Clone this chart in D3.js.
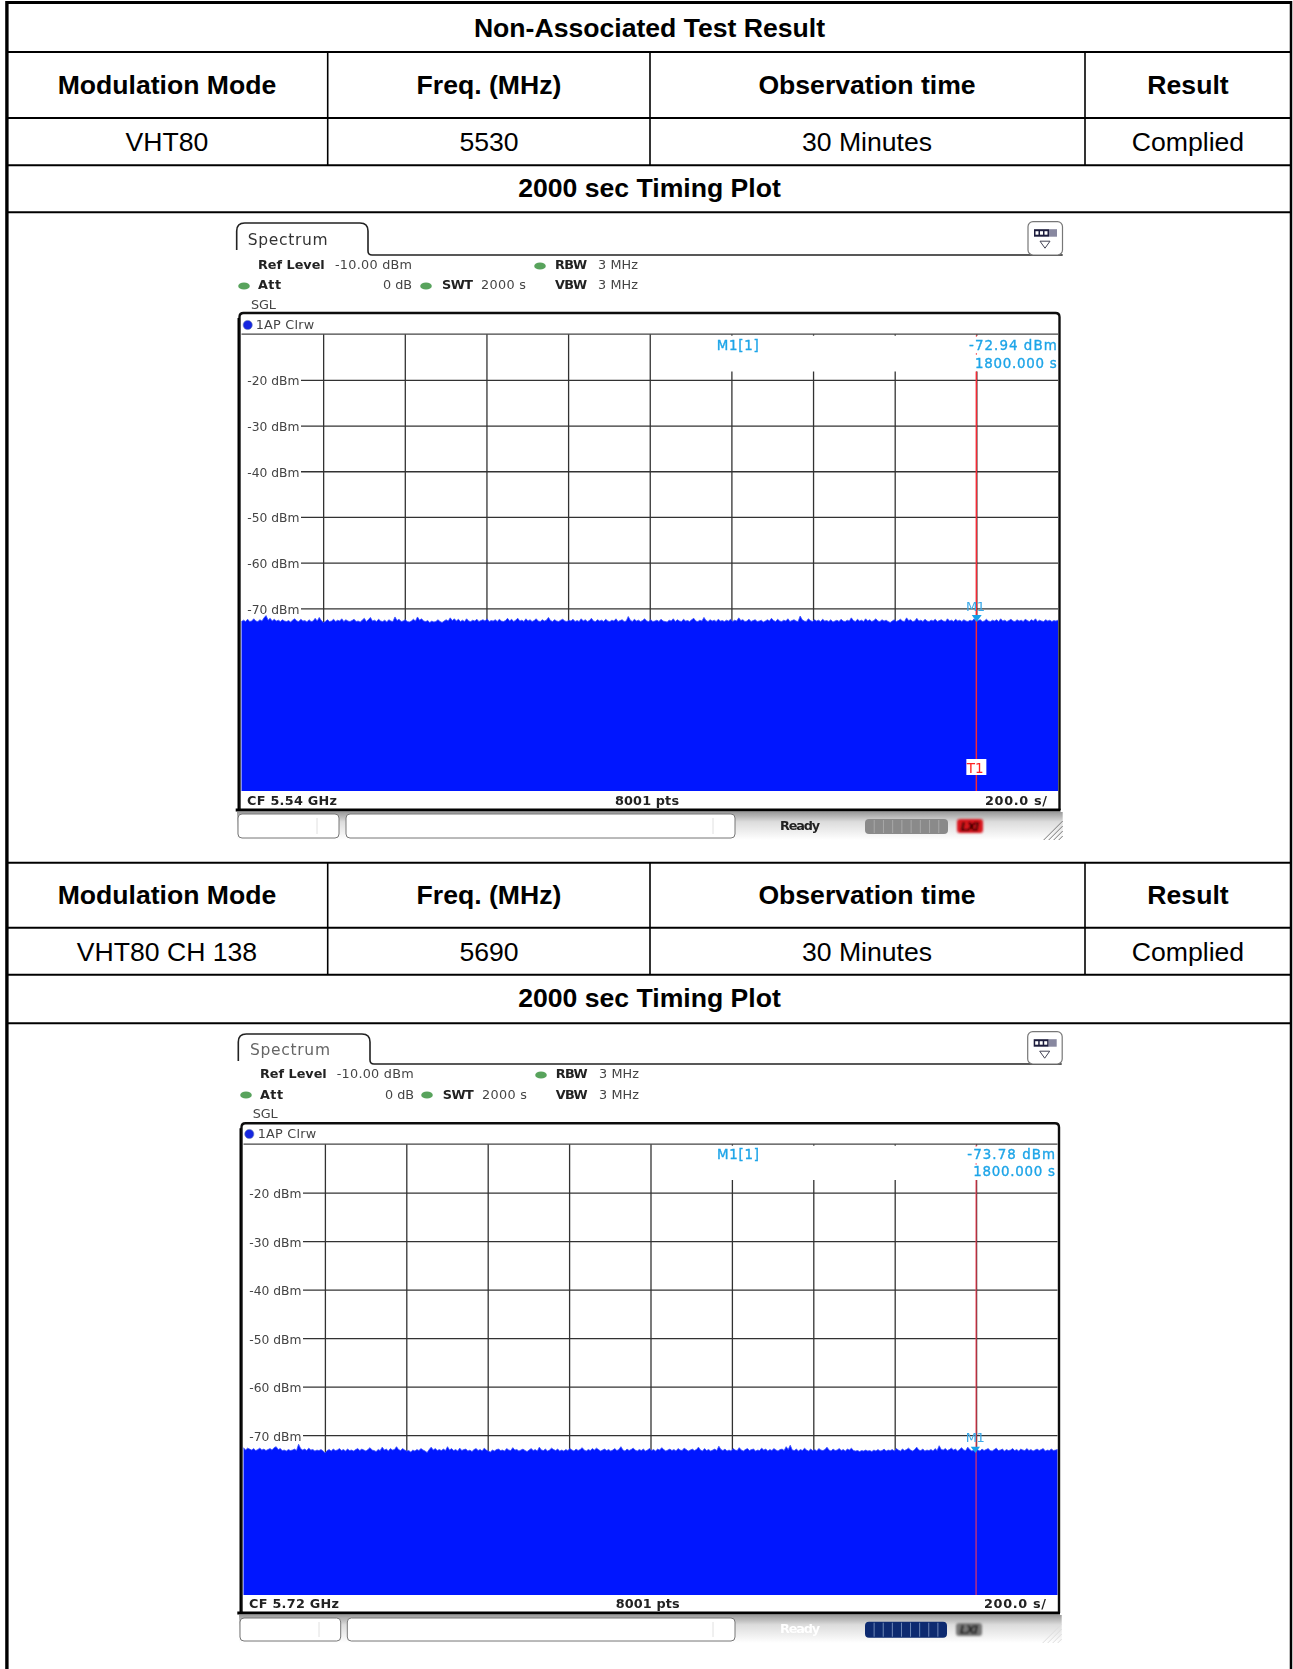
<!DOCTYPE html>
<html>
<head>
<meta charset="utf-8">
<script src="https://cdn.jsdelivr.net/npm/d3@7/dist/d3.min.js"></script>
<style>
body { margin: 0; background: #fff; }
svg { display: block; }
</style>
</head>
<body>
<div id="chart"></div>
<script>
// table text
const tableTitle = "Non-Associated Test Result"
const tableHeaders = ["Modulation Mode", "Freq. (MHz)", "Observation time", "Result"]
const resultRows = [
    ["VHT80", "5530", "30 Minutes", "Complied"],
    ["VHT80 CH 138", "5690", "30 Minutes", "Complied"]
]
const plotTitle = "2000 sec Timing Plot"

// analyzer axes
const levelTicks = [-20, -30, -40, -50, -60, -70]
const timeTicks = [200, 400, 600, 800, 1000, 1200, 1400, 1600, 1800]

// trace top edge in dBm from left to right
const trace1 = [
    -72.9,-72.6,-72.9,-72.4,-72.9,-72.8,-72.3,-72.8,-72.9,-72.5,-72.8,-72.1,-71.6,-72.6,-72.2,-72.8,-72.4,-72.8,-72.6,-72.9,
    -72.5,-72.8,-72.9,-72.7,-73.0,-72.6,-72.3,-72.8,-72.9,-72.4,-72.8,-72.7,-73.0,-72.5,-72.9,-72.8,-72.2,-72.8,-72.0,-72.7,
    -73.1,-72.9,-72.5,-72.9,-72.8,-72.4,-72.9,-72.6,-72.8,-72.3,-72.9,-72.5,-72.8,-72.9,-72.7,-72.4,-72.9,-72.8,-73.0,-72.6,
    -72.2,-72.9,-72.5,-72.0,-72.8,-72.6,-72.9,-72.4,-72.8,-72.9,-72.6,-73.0,-72.5,-72.8,-72.9,-71.9,-72.7,-72.4,-72.9,-72.8,
    -72.5,-72.9,-73.0,-72.8,-72.4,-72.8,-71.9,-72.6,-72.3,-72.8,-72.9,-72.7,-73.1,-72.8,-73.0,-72.9,-72.5,-72.9,-73.1,-72.8,
    -72.5,-72.8,-72.1,-72.7,-72.3,-72.8,-72.4,-72.9,-72.6,-72.9,-72.3,-72.8,-72.9,-72.6,-72.8,-72.4,-72.9,-72.7,-72.5,-72.8,
    -72.3,-72.9,-72.7,-72.8,-72.5,-72.9,-72.4,-72.8,-72.9,-72.7,-72.2,-72.8,-72.4,-72.9,-72.6,-72.2,-72.8,-72.6,-72.9,-72.3,
    -72.8,-72.5,-72.9,-72.7,-72.3,-72.8,-72.9,-72.5,-72.8,-72.6,-72.0,-72.7,-72.9,-72.5,-72.8,-72.9,-72.6,-72.4,-72.8,-72.9,
    -72.6,-72.8,-72.4,-72.9,-72.7,-72.9,-72.3,-72.8,-72.5,-72.9,-72.7,-72.2,-72.8,-72.9,-72.5,-72.8,-72.6,-72.9,-72.4,-72.8,
    -72.9,-72.6,-72.8,-72.3,-72.9,-72.7,-72.5,-72.9,-72.8,-71.8,-72.6,-72.9,-72.4,-72.8,-72.6,-72.9,-72.7,-72.3,-72.8,-72.9,
    -72.5,-72.9,-72.8,-72.6,-72.9,-72.4,-72.8,-72.9,-73.0,-72.6,-72.8,-72.3,-72.9,-72.5,-72.8,-72.9,-72.4,-72.8,-72.7,-72.9,
    -72.5,-72.2,-72.8,-72.9,-72.6,-72.8,-72.0,-72.7,-72.9,-72.5,-72.8,-72.6,-72.9,-72.4,-72.8,-72.7,-72.9,-72.6,-72.8,-72.4,
    -72.9,-72.6,-72.8,-72.1,-72.7,-72.5,-72.9,-72.8,-72.4,-72.9,-72.7,-72.5,-72.9,-72.8,-72.6,-73.0,-72.8,-72.5,-72.8,-72.2,
    -72.7,-72.9,-72.4,-72.8,-72.9,-72.6,-72.8,-72.3,-72.9,-72.7,-72.5,-72.8,-72.9,-71.7,-72.5,-72.8,-72.9,-72.3,-72.7,-72.9,
    -72.5,-72.8,-72.6,-72.9,-72.4,-72.8,-72.7,-72.9,-72.5,-73.0,-72.8,-72.6,-72.9,-72.4,-72.8,-72.9,-72.6,-72.8,-72.1,-72.7,
    -72.9,-72.4,-72.8,-72.6,-72.9,-72.3,-72.8,-72.5,-72.9,-72.7,-72.3,-72.8,-72.9,-72.5,-72.8,-72.6,-72.9,-73.1,-72.8,-72.5,
    -72.9,-72.7,-72.4,-72.8,-72.9,-72.1,-72.7,-72.5,-72.9,-72.8,-72.2,-72.8,-72.6,-72.9,-72.4,-72.8,-72.9,-72.6,-72.8,-72.4,
    -72.9,-72.7,-72.5,-72.8,-72.9,-72.3,-72.8,-72.6,-72.9,-72.4,-72.8,-72.6,-72.9,-72.5,-72.8,-72.9,-72.6,-72.8,-72.3,-72.9,
    -72.7,-72.5,-72.9,-72.8,-72.4,-72.8,-72.9,-72.6,-72.8,-72.5,-72.9,-72.3,-72.8,-72.6,-72.9,-72.7,-72.4,-72.8,-72.9,-72.5,
    -72.8,-72.6,-72.9,-72.4,-72.7,-72.9,-72.5,-72.8,-72.3,-72.9,-72.6,-72.8,-72.9,-72.5,-72.8,-72.6,-72.9,-72.7,-72.8,-72.6
]
const trace2 = [
    -72.6,-73.1,-72.7,-72.9,-73.1,-72.8,-73.2,-73.0,-72.7,-73.1,-72.9,-73.2,-73.0,-72.8,-73.1,-72.6,-72.4,-73.0,-72.8,-73.2,
    -73.1,-73.3,-73.0,-73.2,-73.1,-72.9,-73.2,-71.9,-72.8,-73.1,-72.9,-73.2,-72.7,-73.1,-73.0,-73.3,-73.1,-73.2,-73.0,-73.3,
    -73.7,-73.2,-73.0,-73.3,-72.9,-73.2,-73.1,-72.8,-73.2,-73.0,-73.3,-72.9,-73.2,-73.1,-73.3,-73.0,-72.8,-73.2,-72.9,-73.1,
    -73.3,-73.0,-72.6,-73.1,-73.2,-73.4,-73.0,-73.2,-72.5,-73.1,-72.9,-73.3,-72.8,-73.1,-73.0,-72.4,-73.0,-73.2,-72.8,-73.1,
    -73.3,-73.2,-73.5,-73.1,-73.3,-73.0,-73.2,-72.8,-73.1,-73.3,-73.6,-73.0,-72.5,-73.1,-72.8,-73.2,-73.0,-73.2,-72.9,-73.2,
    -72.4,-73.1,-72.8,-73.2,-73.0,-73.3,-72.7,-73.2,-73.0,-72.9,-73.3,-73.1,-73.4,-73.0,-72.8,-73.2,-73.0,-73.3,-72.7,-73.1,
    -73.3,-73.5,-73.1,-73.3,-73.0,-72.9,-73.2,-73.1,-73.3,-72.8,-73.1,-73.2,-72.6,-73.1,-73.0,-73.3,-73.1,-72.9,-73.2,-73.4,
    -73.1,-72.8,-73.2,-73.0,-73.3,-72.5,-73.1,-73.2,-72.9,-73.3,-73.1,-72.7,-73.0,-73.2,-72.9,-73.3,-73.1,-73.3,-73.0,-73.2,
    -72.8,-73.1,-73.3,-72.9,-73.2,-73.0,-72.6,-73.1,-73.3,-73.0,-73.2,-72.8,-73.1,-72.7,-73.0,-73.3,-73.1,-72.9,-73.2,-73.0,
    -73.3,-73.1,-72.8,-73.2,-73.0,-72.4,-73.1,-73.3,-72.9,-73.2,-73.0,-72.7,-73.1,-73.3,-73.0,-73.2,-72.9,-73.3,-73.1,-72.8,
    -73.2,-73.0,-73.3,-72.9,-73.1,-72.6,-73.0,-73.3,-73.1,-72.9,-73.2,-73.0,-73.3,-72.8,-73.1,-73.2,-72.7,-73.0,-73.3,-73.1,
    -72.9,-73.2,-73.0,-72.5,-73.1,-73.3,-72.8,-73.2,-73.0,-73.3,-73.1,-72.9,-73.2,-72.3,-73.0,-73.2,-72.9,-73.3,-73.1,-73.3,
    -72.8,-73.1,-73.2,-72.6,-73.1,-73.3,-73.0,-72.8,-73.2,-73.0,-72.9,-73.3,-73.1,-73.2,-72.7,-73.1,-72.9,-73.3,-73.0,-73.2,
    -72.8,-73.1,-73.3,-73.0,-72.9,-73.2,-72.4,-73.0,-72.1,-73.1,-73.2,-72.9,-73.3,-73.0,-73.2,-72.7,-73.1,-73.3,-72.9,-73.2,
    -73.0,-73.3,-72.8,-73.1,-73.2,-73.0,-72.5,-73.1,-73.3,-72.9,-73.2,-73.1,-72.8,-73.2,-73.0,-73.3,-72.9,-73.1,-72.7,-73.2,
    -73.3,-73.2,-73.4,-73.2,-73.3,-73.1,-73.3,-73.2,-73.4,-73.1,-73.3,-73.0,-73.3,-73.2,-72.9,-73.3,-73.1,-73.2,-73.0,-73.3,
    -72.8,-73.1,-73.3,-72.9,-73.2,-73.0,-72.7,-73.1,-73.3,-73.0,-72.5,-73.1,-73.2,-72.9,-73.3,-73.1,-73.2,-73.0,-73.3,-72.8,
    -73.2,-72.2,-73.0,-73.1,-72.8,-73.2,-73.0,-72.7,-73.1,-72.9,-73.3,-73.0,-72.6,-73.1,-73.2,-72.5,-73.0,-73.3,-73.1,-72.8,
    -73.1,-73.3,-72.9,-73.2,-73.0,-72.8,-73.2,-73.3,-73.0,-72.7,-73.2,-73.1,-72.9,-73.3,-73.0,-73.2,-73.1,-72.8,-73.2,-73.0,
    -73.3,-72.9,-73.1,-73.2,-72.8,-73.2,-73.0,-73.3,-73.1,-72.9,-73.2,-73.0,-72.8,-73.3,-73.1,-73.2,-72.9,-73.2,-73.1,-73.0
]

const width = 1293, height = 1669

const svg = d3.select("#chart").append("svg")
    .attr("width", width)
    .attr("height", height)
    .attr("viewBox", `0 0 ${width} ${height}`)

const defs = svg.append("defs")

defs.append("filter").attr("id", "soft")
    .attr("x", "-2%").attr("y", "-2%").attr("width", "104%").attr("height", "104%")
    .append("feGaussianBlur").attr("stdDeviation", 0.4)
defs.append("filter").attr("id", "softer")
    .attr("x", "-20%").attr("y", "-20%").attr("width", "140%").attr("height", "140%")
    .append("feGaussianBlur").attr("stdDeviation", 0.9)

let barGradient = defs.append("linearGradient")
    .attr("id", "statusbar")
    .attr("x1", 0).attr("y1", 0).attr("x2", 0).attr("y2", 1)
barGradient.append("stop").attr("offset", "0%").attr("stop-color", "#9a9a9a")
barGradient.append("stop").attr("offset", "35%").attr("stop-color", "#dcdcdc")
barGradient.append("stop").attr("offset", "100%").attr("stop-color", "#ffffff")

// ---- table ----
const tableFont = "'Liberation Sans', Arial, sans-serif"
const colCentres = [167, 489, 867, 1188]
const colLines = [327.7, 650, 1085]
const tableLeft = 6.9, tableRight = 1291

let tableGroup = svg.append("g")
let plotGroup = svg.append("g")

function hline(y, w) {
    tableGroup.append("line")
        .attr("x1", tableLeft).attr("x2", tableRight)
        .attr("y1", y).attr("y2", y)
        .attr("stroke", "black").attr("stroke-width", w)
}

function cellText(s, x, y, bold) {
    tableGroup.append("text")
        .attr("x", x).attr("y", y)
        .attr("text-anchor", "middle")
        .attr("font-family", tableFont)
        .attr("font-size", 26.6)
        .attr("font-weight", bold ? "bold" : "normal")
        .attr("fill", "black")
        .text(s)
}

hline(2.5, 3)
tableGroup.selectAll(".outer")
    .data([tableLeft, tableRight])
    .join("line")
    .attr("class", "outer")
    .attr("x1", d => d).attr("x2", d => d)
    .attr("y1", 1).attr("y2", height)
    .attr("stroke", "black")
    .attr("stroke-width", d => d == tableLeft ? 3.4 : 2.5)

cellText(tableTitle, 649.5, 37, true)

// each result block: rule under title/plot, header, value and plot title rows
const blocks = [
    {rules: [52, 118, 165.3, 212.3]},
    {rules: [862.7, 927.7, 974.7, 1023.3]}
]
blocks.forEach((block, b) => {
    let [top, headerEnd, valueEnd, titleEnd] = block.rules
    block.rules.forEach(y => hline(y, 2))
    tableGroup.selectAll(".col" + b)
        .data(colLines)
        .join("line")
        .attr("class", "col" + b)
        .attr("x1", d => d).attr("x2", d => d)
        .attr("y1", top).attr("y2", valueEnd)
        .attr("stroke", "black").attr("stroke-width", 1.6)
    tableHeaders.forEach((h, i) => cellText(h, colCentres[i], headerEnd - 24, true))
    resultRows[b].forEach((v, i) => cellText(v, colCentres[i], headerEnd + 33, false))
    cellText(plotTitle, 649.5, valueEnd + 32, true)
})

// ---- analyzer screenshots ----
const plotFont = "'DejaVu Sans', Verdana, sans-serif"

const plotLayouts = [
    {
        trace: trace1, cf: "CF 5.54 GHz", markerValue: "-72.94 dBm", markerLevel: -72.94,
        x0: 241.5, x1: 1058, yTop: 334.2, yBottom: 791, yMin: -110,
        tabLeft: 236.7, tabRight: 368, tabTop: 223, tabBase: 255, lineEnd: 1062.7,
        button: [1028, 221.7], spectrumColor: "#333",
        spectrum: [247.7, 245],
        rows: [269, 289, 309],
        fields: {ref: 258, refVal: 335, att0: 383, swt: 442, swtVal: 481, rbw: 555, mhz: 598},
        leds: [[540, 266], [244, 286], [426, 286]],
        sgl: 251, frameTop: 313, frameLeft: 239.5, frameRight: 1059.5, frameBottom: 810,
        dot: [247.7, 325], trc: [255.7, 329],
        labelX: 247.3, labelEnd: 301, labelDy: 5,
        markX: [716.7, 1056.7], markY: [350, 367.7], gridStop: 371.5,
        m1: [966, 610.7], tri: [971.7, 981.7, 615, 622],
        bottomY: 805, ptsX: 615, perDivX: 985,
        bar: [812, 840], boxLeft: 238, boxTop: 814, boxBottom: 838, box2: [346, 735], notch: [317, 713],
        boxW: 101, ready: {x: 780, y: 830, fill: "#222"},
        prog: {x: 865, y: 819, w: 83, h: 15, fill: "#8a8a8a", stroke: "#a8a8a8"},
        lxi: {x: 957, y: 819, w: 26, h: 14, fill: "#d8141c", text: "#200"},
        grip: "#777", redLine: "#f42a36", redOpacity: 1, t1: true
    },
    {
        trace: trace2, cf: "CF 5.72 GHz", markerValue: "-73.78 dBm", markerLevel: -73.78,
        x0: 243.5, x1: 1057.5, yTop: 1144.2, yBottom: 1595, yMin: -103,
        tabLeft: 238.3, tabRight: 370, tabTop: 1034, tabBase: 1064, lineEnd: 1061.7,
        button: [1027.7, 1031.7], spectrumColor: "#666",
        spectrum: [250, 1055],
        rows: [1078.3, 1099, 1117.7],
        fields: {ref: 260, refVal: 336.7, att0: 385, swt: 442.7, swtVal: 482, rbw: 555.7, mhz: 599},
        leds: [[541, 1075], [246, 1095], [427, 1095]],
        sgl: 252.7, frameTop: 1123.3, frameLeft: 241.5, frameRight: 1059, frameBottom: 1613,
        dot: [249.3, 1134], trc: [257.7, 1138],
        labelX: 249.3, labelEnd: 303, labelDy: 5,
        markX: [717, 1055], markY: [1159, 1176], gridStop: 1180,
        m1: [965.7, 1441.7], tri: [970.7, 980, 1446.7, 1453],
        bottomY: 1608, ptsX: 615.7, perDivX: 984,
        bar: [1615, 1643], boxLeft: 240, boxTop: 1618, boxBottom: 1641, box2: [347.3, 735], notch: [319, 713],
        boxW: 100.7, ready: {x: 780, y: 1633, fill: "#fff"},
        prog: {x: 865, y: 1621.7, w: 82, h: 16, fill: "#0a2a70", stroke: "#7088b8"},
        lxi: {x: 956, y: 1623, w: 26, h: 13, fill: "#777", text: "#222"},
        grip: "#ddd", redLine: "#ff3a50", redOpacity: 0.7, t1: false
    }
]

function label(g, s, x, y, opts = {}) {
    let t = g.append("text")
        .attr("x", x).attr("y", y)
        .attr("font-family", plotFont)
        .attr("font-size", opts.size || 12.8)
        .attr("font-weight", opts.bold ? "bold" : "normal")
        .attr("fill", opts.fill || "#444")
        .text(s)
    if (opts.len) t.attr("textLength", opts.len).attr("lengthAdjust", "spacing")
    if (opts.anchor) t.attr("text-anchor", opts.anchor)
    return t
}

function drawPlot(p) {
    let g = plotGroup.append("g").attr("filter", "url(#soft)")

    let xScale = d3.scaleLinear().domain([0, 2000]).range([p.x0, p.x1])
    let yScale = d3.scaleLinear().domain([-10, p.yMin]).range([p.yTop, p.yBottom])
    let sampleScale = d3.scaleLinear().domain([0, p.trace.length - 1]).range([0, 2000])

    // tab and settings header
    g.append("path")
        .attr("d", `M${p.tabLeft},${p.tabTop + 27} V${p.tabTop + 8} Q${p.tabLeft},${p.tabTop} ${p.tabLeft + 8},${p.tabTop}
            H${p.tabRight - 8} Q${p.tabRight},${p.tabTop} ${p.tabRight},${p.tabTop + 8} V${p.tabBase - 4}
            Q${p.tabRight},${p.tabBase} ${p.tabRight + 4},${p.tabBase} H${p.lineEnd}`)
        .attr("fill", "none").attr("stroke", "#222").attr("stroke-width", 1.6)

    let [bx, by] = p.button
    g.append("rect")
        .attr("x", bx).attr("y", by).attr("width", 34.5).attr("height", p.tabBase - by)
        .attr("rx", 5).attr("fill", "white").attr("stroke", "#777").attr("stroke-width", 1.2)
    g.append("rect").attr("x", bx + 6).attr("y", by + 7.5).attr("width", 15).attr("height", 7.5).attr("fill", "#1c1c3c")
    g.append("rect").attr("x", bx + 21).attr("y", by + 7.5).attr("width", 8).attr("height", 7.5).attr("fill", "#8888a0")
    d3.range(3).forEach(i => g.append("rect").attr("x", bx + 7.5 + i * 4.5).attr("y", by + 9.5).attr("width", 3).attr("height", 3.5).attr("fill", "#fff"))
    g.append("path")
        .attr("d", `M${bx + 12},${by + 19.5} H${bx + 22} L${bx + 17},${by + 26.5} Z`)
        .attr("fill", "white").attr("stroke", "#445").attr("stroke-width", 1)

    label(g, "Spectrum", p.spectrum[0], p.spectrum[1], {size: 15.5, len: 80, fill: p.spectrumColor})

    let f = p.fields, [r1, r2, r3] = p.rows
    label(g, "Ref Level", f.ref, r1, {bold: true, fill: "#222", len: 66.7})
    label(g, "-10.00 dBm", f.refVal, r1, {len: 77})
    label(g, "RBW", f.rbw, r1, {bold: true, fill: "#222", len: 32})
    label(g, "3 MHz", f.mhz, r1, {len: 40})
    label(g, "Att", f.ref, r2, {bold: true, fill: "#222", len: 23})
    label(g, "0 dB", f.att0, r2, {len: 29})
    label(g, "SWT", f.swt, r2, {bold: true, fill: "#222", len: 31})
    label(g, "2000 s", f.swtVal, r2, {len: 45})
    label(g, "VBW", f.rbw, r2, {bold: true, fill: "#222", len: 32})
    label(g, "3 MHz", f.mhz, r2, {len: 40})
    label(g, "SGL", p.sgl, r3, {len: 25})

    g.selectAll(".led")
        .data(p.leds)
        .join("ellipse")
        .attr("class", "led")
        .attr("cx", d => d[0]).attr("cy", d => d[1])
        .attr("rx", 5.8).attr("ry", 3.6)
        .attr("fill", "#58a35c")

    // trace window
    g.append("rect")
        .attr("x", p.frameLeft + 1).attr("y", p.frameTop)
        .attr("width", p.frameRight - p.frameLeft - 1).attr("height", p.frameBottom - p.frameTop)
        .attr("fill", "white")

    g.append("circle").attr("cx", p.dot[0]).attr("cy", p.dot[1]).attr("r", 4.6)
        .attr("fill", "#1428e0").attr("stroke", "#7080b0").attr("stroke-width", 0.6)
    label(g, "1AP Clrw", p.trc[0], p.trc[1], {len: 58.5})

    // grid, through the scales
    let timeAxis = g.append("g")
        .attr("transform", `translate(0,${p.yTop})`)
        .call(d3.axisBottom(xScale).tickValues(timeTicks).tickSize(p.yBottom - p.yTop).tickFormat(""))
    timeAxis.select(".domain").remove()
    timeAxis.selectAll("line").attr("stroke", "#333").attr("stroke-width", 1.3)

    let levelAxis = g.append("g")
        .attr("transform", `translate(${p.x0},0)`)
        .call(d3.axisLeft(yScale).tickValues(levelTicks).tickSize(-(p.x1 - p.x0)).tickFormat(d => d + " dBm"))
    levelAxis.select(".domain").remove()
    levelAxis.selectAll("line")
        .attr("x1", p.labelEnd - p.x0)
        .attr("stroke", "#333").attr("stroke-width", 1.3)
    levelAxis.selectAll("text")
        .attr("x", p.labelX - p.x0)
        .attr("dy", null)
        .attr("y", p.labelDy)
        .attr("text-anchor", "start")
        .attr("font-family", plotFont)
        .attr("font-size", 12.3)
        .attr("fill", "#444")

    // marker readout sits on a white block over the last grid lines
    g.append("rect")
        .attr("x", xScale(1000) + 1.5).attr("y", p.yTop + 1.5)
        .attr("width", p.x1 - xScale(1000) - 1.5).attr("height", p.gridStop - p.yTop - 1.5)
        .attr("fill", "white")

    g.append("line")
        .attr("x1", p.x0).attr("x2", p.x1)
        .attr("y1", p.yTop).attr("y2", p.yTop)
        .attr("stroke", "#444").attr("stroke-width", 1.3)

    // filled trace
    let area = d3.area()
        .x((d, i) => xScale(sampleScale(i)))
        .y0(yScale(p.yMin))
        .y1(d => yScale(d))
    g.append("path")
        .datum(p.trace)
        .attr("d", area)
        .attr("fill", "#0018ff")
    g.append("path")
        .datum(p.trace)
        .attr("d", d3.line().x((d, i) => xScale(sampleScale(i))).y(d => yScale(d)))
        .attr("fill", "none")
        .attr("stroke", "#3a4eff")
        .attr("stroke-width", 0.8)

    // frame over the trace edges
    g.append("path")
        .attr("d", `M${p.frameLeft},${p.frameBottom} V${p.frameTop + 4} Q${p.frameLeft},${p.frameTop} ${p.frameLeft + 4},${p.frameTop}
            H${p.frameRight - 4} Q${p.frameRight},${p.frameTop} ${p.frameRight},${p.frameTop + 4} V${p.frameBottom}`)
        .attr("fill", "none").attr("stroke", "#111").attr("stroke-width", 2.4)
    g.append("line")
        .attr("x1", p.frameLeft - 1.2).attr("x2", p.frameLeft - 1.2)
        .attr("y1", p.frameTop + 5).attr("y2", p.frameBottom)
        .attr("stroke", "#000").attr("stroke-width", 1.6)
    g.append("line")
        .attr("x1", p.tabLeft - 1).attr("x2", p.frameRight + 1)
        .attr("y1", p.frameBottom).attr("y2", p.frameBottom)
        .attr("stroke", "#000").attr("stroke-width", 3.2)

    // T1 line and marker
    let mx = xScale(1800)
    g.append("line")
        .attr("x1", mx).attr("x2", mx)
        .attr("y1", p.gridStop).attr("y2", p.yBottom)
        .attr("stroke", p.redLine).attr("stroke-opacity", p.redOpacity).attr("stroke-width", 1.5)
    g.selectAll(".redtick")
        .data([p.yTop + 1, p.yTop + 19])
        .join("line")
        .attr("class", "redtick")
        .attr("x1", mx).attr("x2", mx)
        .attr("y1", d => d).attr("y2", d => d + 1.5)
        .attr("stroke", p.redLine)

    const markerBlue = "#1fa5e8"
    label(g, "M1[1]", p.markX[0], p.markY[0], {fill: markerBlue, size: 13.4, len: 42}).attr("stroke", markerBlue).attr("stroke-width", 0.35)
    label(g, p.markerValue, p.markX[1] - 87.7, p.markY[0], {fill: markerBlue, size: 13.4, len: 87.7}).attr("stroke", markerBlue).attr("stroke-width", 0.35)
    label(g, "1800.000 s", p.markX[1] - 81.7, p.markY[1], {fill: markerBlue, size: 13.4, len: 81.7}).attr("stroke", markerBlue).attr("stroke-width", 0.35)

    label(g, "M1", p.m1[0], p.m1[1], {fill: "#3aa8e8", size: 13, len: 19})
    let [t0, t1, t2, t3] = p.tri
    g.append("path")
        .attr("d", `M${t0},${t2} H${t1} L${(t0 + t1) / 2},${t3} Z`)
        .attr("fill", "#18a0e8")

    if (p.t1) {
        g.append("rect").attr("x", mx - 10).attr("y", p.yBottom - 32)
            .attr("width", 20).attr("height", 16).attr("fill", "white")
        label(g, "T1", mx - 9.5, p.yBottom - 18, {fill: "#ff2020", size: 13.5})
    }

    // bottom scale line
    label(g, p.cf, p.frameLeft + 7.5, p.bottomY, {bold: true, fill: "#222", len: 90})
    label(g, "8001 pts", p.ptsX, p.bottomY, {bold: true, fill: "#222", len: 64})
    label(g, "200.0 s/", p.perDivX, p.bottomY, {bold: true, fill: "#222", len: 62})

    // status bar
    g.append("rect")
        .attr("x", p.boxLeft - 1).attr("y", p.bar[0])
        .attr("width", p.lineEnd - p.boxLeft + 1).attr("height", p.bar[1] - p.bar[0])
        .attr("fill", "url(#statusbar)")
    g.selectAll(".box")
        .data([[p.boxLeft, p.boxW], [p.box2[0], p.box2[1] - p.box2[0]]])
        .join("rect")
        .attr("class", "box")
        .attr("x", d => d[0]).attr("y", p.boxTop)
        .attr("width", d => d[1]).attr("height", p.boxBottom - p.boxTop)
        .attr("rx", 4)
        .attr("fill", "white").attr("stroke", "#777").attr("stroke-width", 1)
    g.selectAll(".notch")
        .data(p.notch)
        .join("line")
        .attr("class", "notch")
        .attr("x1", d => d).attr("x2", d => d)
        .attr("y1", p.boxTop + 4).attr("y2", p.boxBottom - 4)
        .attr("stroke", "#e0e0e0")

    label(g, "Ready", p.ready.x, p.ready.y, {bold: true, fill: p.ready.fill, len: 40})

    g.append("rect")
        .attr("x", p.prog.x).attr("y", p.prog.y)
        .attr("width", p.prog.w).attr("height", p.prog.h).attr("rx", 4)
        .attr("fill", p.prog.fill)
    g.selectAll(".seg")
        .data(d3.range(1, 9))
        .join("line")
        .attr("class", "seg")
        .attr("x1", d => p.prog.x + d * p.prog.w / 9).attr("x2", d => p.prog.x + d * p.prog.w / 9)
        .attr("y1", p.prog.y + 1).attr("y2", p.prog.y + p.prog.h - 1)
        .attr("stroke", p.prog.stroke)

    // LXI badge is smeared in the screenshot
    let lxi = g.append("g").attr("filter", "url(#softer)")
    lxi.append("rect")
        .attr("x", p.lxi.x).attr("y", p.lxi.y)
        .attr("width", p.lxi.w).attr("height", p.lxi.h).attr("rx", 3)
        .attr("fill", p.lxi.fill)
    label(lxi, "LXI", p.lxi.x + 3.5, p.lxi.y + p.lxi.h - 2.5, {bold: true, fill: p.lxi.text, size: 12.5, len: 19})
        .attr("font-style", "italic")

    g.selectAll(".grip")
        .data([4, 9, 14, 19])
        .join("line")
        .attr("class", "grip")
        .attr("x1", d => p.lineEnd - d).attr("y1", p.bar[1])
        .attr("x2", p.lineEnd).attr("y2", d => p.bar[1] - d)
        .attr("stroke", p.grip).attr("stroke-width", 1)
}

plotLayouts.forEach(drawPlot)
</script>
</body>
</html>
